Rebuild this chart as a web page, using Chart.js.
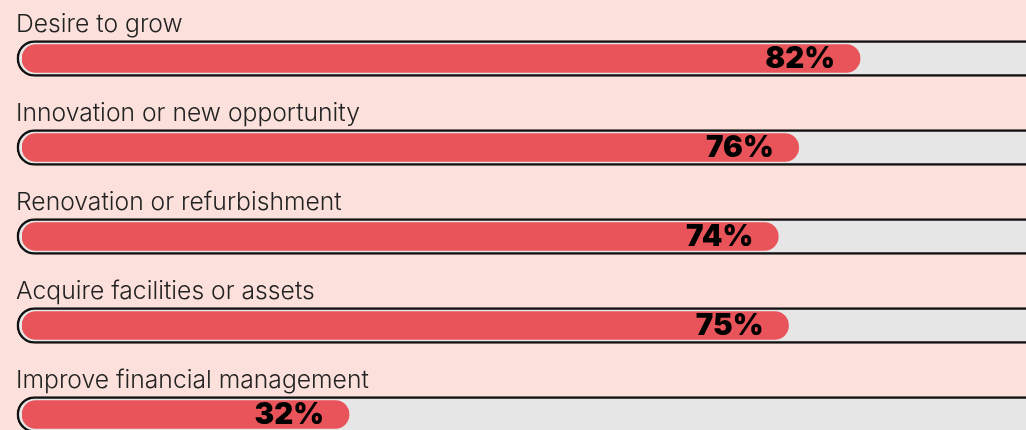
<!DOCTYPE html>
<html>
<head>
<meta charset="utf-8">
<script src="https://cdn.jsdelivr.net/npm/chart.js@4.4.1/dist/chart.umd.min.js"></script>
<style>
  html, body { margin: 0; padding: 0; background: #fbe0dc; overflow: hidden; }
  #wrap { position: relative; width: 1070px; height: 470px; }
</style>
</head>
<body>
<div id="wrap"><canvas id="chart"></canvas></div>
<script>
const categories = [
  "Desire to grow",
  "Innovation or new opportunity",
  "Renovation or refurbishment",
  "Acquire facilities or assets",
  "Improve financial management"
];
const shares = [82, 76, 74, 75, 32];
const trackRange = [-0.5, 100];

// labels above each bar + percent text inside the red bar
const labelPlugin = {
  id: "labels",
  afterDatasetsDraw(chart) {
    const ctx = chart.ctx;
    const bars = chart.getDatasetMeta(0).data;
    ctx.save();
    bars.forEach((bar, i) => {
      ctx.fillStyle = "#222";
      ctx.font = "300 24.7px Inter";
      ctx.textAlign = "left";
      ctx.textBaseline = "alphabetic";
      ctx.fillText(categories[i], 16, bar.y - 27);

      ctx.fillStyle = "#000";
      ctx.font = "900 29.5px Inter";
      ctx.textAlign = "right";
      ctx.textBaseline = "middle";
      ctx.fillText(shares[i] + "%", bar.x - 25, bar.y + 1);
    });
    ctx.restore();
  }
};

new Chart(document.getElementById("chart"), {
  type: "bar",
  data: {
    labels: categories,
    datasets: [
      {
        data: shares,
        backgroundColor: "#e9545a",
        borderRadius: 14,
        borderSkipped: false,
        barThickness: 28,
        grouped: false,
        order: 1
      },
      {
        data: categories.map(() => trackRange),
        backgroundColor: "#e7e6e6",
        borderColor: "#111",
        borderWidth: 2.5,
        borderRadius: 18,
        borderSkipped: false,
        barThickness: 36,
        grouped: false,
        clip: false,
        order: 2
      }
    ]
  },
  options: {
    indexAxis: "y",
    responsive: true,
    maintainAspectRatio: false,
    animation: false,
    layout: { padding: { left: 22, right: 26, top: 14, bottom: 11 } },
    plugins: { legend: { display: false }, tooltip: { enabled: false } },
    scales: {
      x: { display: false, min: 0, max: 100 },
      y: { display: false }
    }
  },
  plugins: [labelPlugin]
});
</script>
</body>
</html>
